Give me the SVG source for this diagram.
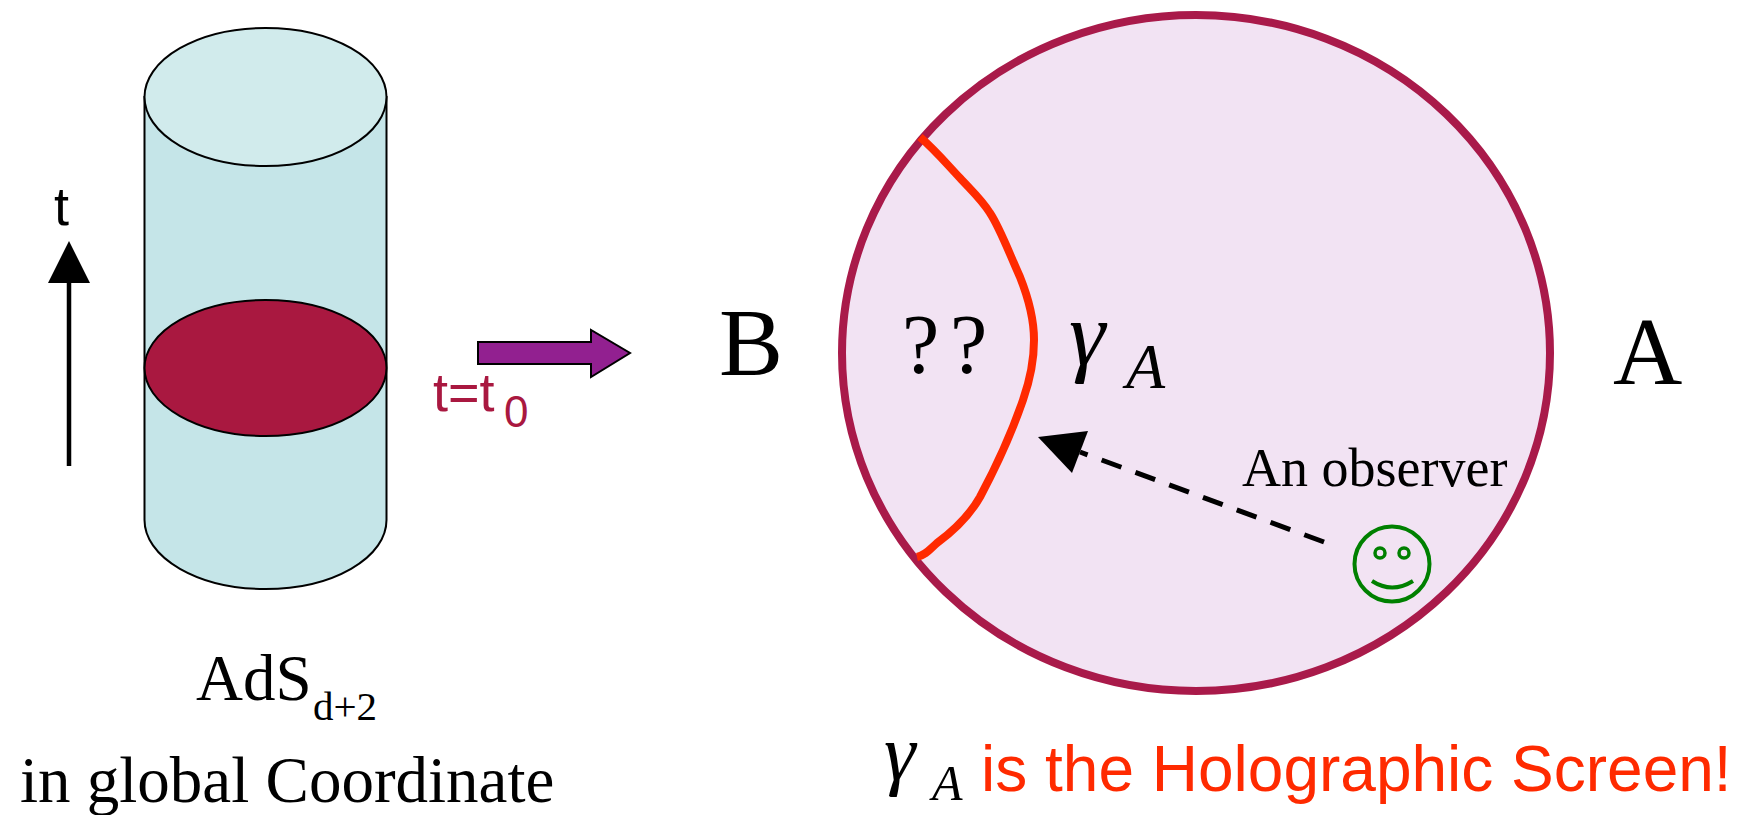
<svg xmlns="http://www.w3.org/2000/svg" width="1742" height="815" viewBox="0 0 1742 815">
<style>
.serif{font-family:"Liberation Serif","Times New Roman",serif;fill:#000}
.sans{font-family:"Liberation Sans",Arial,sans-serif}
.ital{font-style:italic}
.edge{stroke:#000;stroke-width:2}
</style>
<rect width="1742" height="815" fill="#fff"/>
<g id="cylinder">
<path class="edge" fill="#C5E5E8" d="M144.500 97V520A121 69 0 0 0 386.500 520V97Z"/>
<ellipse class="edge" fill="#D1EBEC" cx="265.500" cy="97" rx="121" ry="69"/>
<ellipse class="edge" fill="#A91840" cx="265.500" cy="368" rx="121" ry="68"/>
</g>
<g id="disk">
<ellipse cx="1196" cy="353" rx="354" ry="338" fill="#F2E3F3" stroke="#A91A4A" stroke-width="8"/>
<path d="M920 137C935 150 945 162 960 178C972 191 982 200 990 213C1000 228 1010 255 1020 277C1028 297 1034 318 1034 340C1034 360 1030 380 1023 400C1012 432 996 467 980 497C968 518 952 532 937 543C930 549 926 555 917 557" fill="none" stroke="#FF2A00" stroke-width="8"/>
<text class="serif" font-size="84" x="902 950" y="373">??</text>
<text class="serif ital" font-size="92" x="1069" y="365">γ</text>
<text class="serif ital" font-size="64" x="1126" y="388">A</text>
</g>
<g id="observer">
<circle cx="1392" cy="564" r="37.500" fill="none" stroke="#008000" stroke-width="4"/>
<circle cx="1380" cy="553" r="5" fill="none" stroke="#008000" stroke-width="3.500"/>
<circle cx="1404" cy="553" r="5" fill="none" stroke="#008000" stroke-width="3.500"/>
<path d="M1372 581Q1392 594 1413 581" fill="none" stroke="#008000" stroke-width="4"/>
<text class="serif" font-size="54" x="1242" y="486">An observer</text>
</g>
<g id="connectors">
<path d="M69 466V280" stroke="#000" stroke-width="4.500" fill="none"/>
<path d="M69 241L90 283H48Z" fill="#000"/>
<path d="M1324 542L1080 452" stroke="#000" stroke-width="5" stroke-dasharray="21 15" fill="none"/>
<path d="M1038 437L1088 431L1072 473Z" fill="#000"/>
<path class="edge" fill="#922090" d="M478 342H591V330L630 353L591 377V364H478Z"/>
</g>
<g id="labels">
<text class="sans" font-size="54" x="54" y="225">t</text>
<text class="sans" font-size="54" x="433" y="411" fill="#A91840">t=t</text>
<text class="sans" font-size="44" x="504" y="427" fill="#A91840">0</text>
<text class="serif" font-size="96" x="719" y="375">B</text>
<text class="serif" font-size="96" x="1613" y="384">A</text>
<text class="serif" font-size="65" x="196" y="700">AdS</text>
<text class="serif" font-size="41" x="313" y="720">d+2</text>
<text class="serif" font-size="65" x="20" y="802">in global Coordinate</text>
<text class="serif ital" font-size="80" x="884" y="780">γ</text>
<text class="serif ital" font-size="50" x="932" y="800">A</text>
<text class="sans" font-size="64" x="981" y="791" fill="#FF2A00">is the Holographic Screen!</text>
</g>
</svg>
